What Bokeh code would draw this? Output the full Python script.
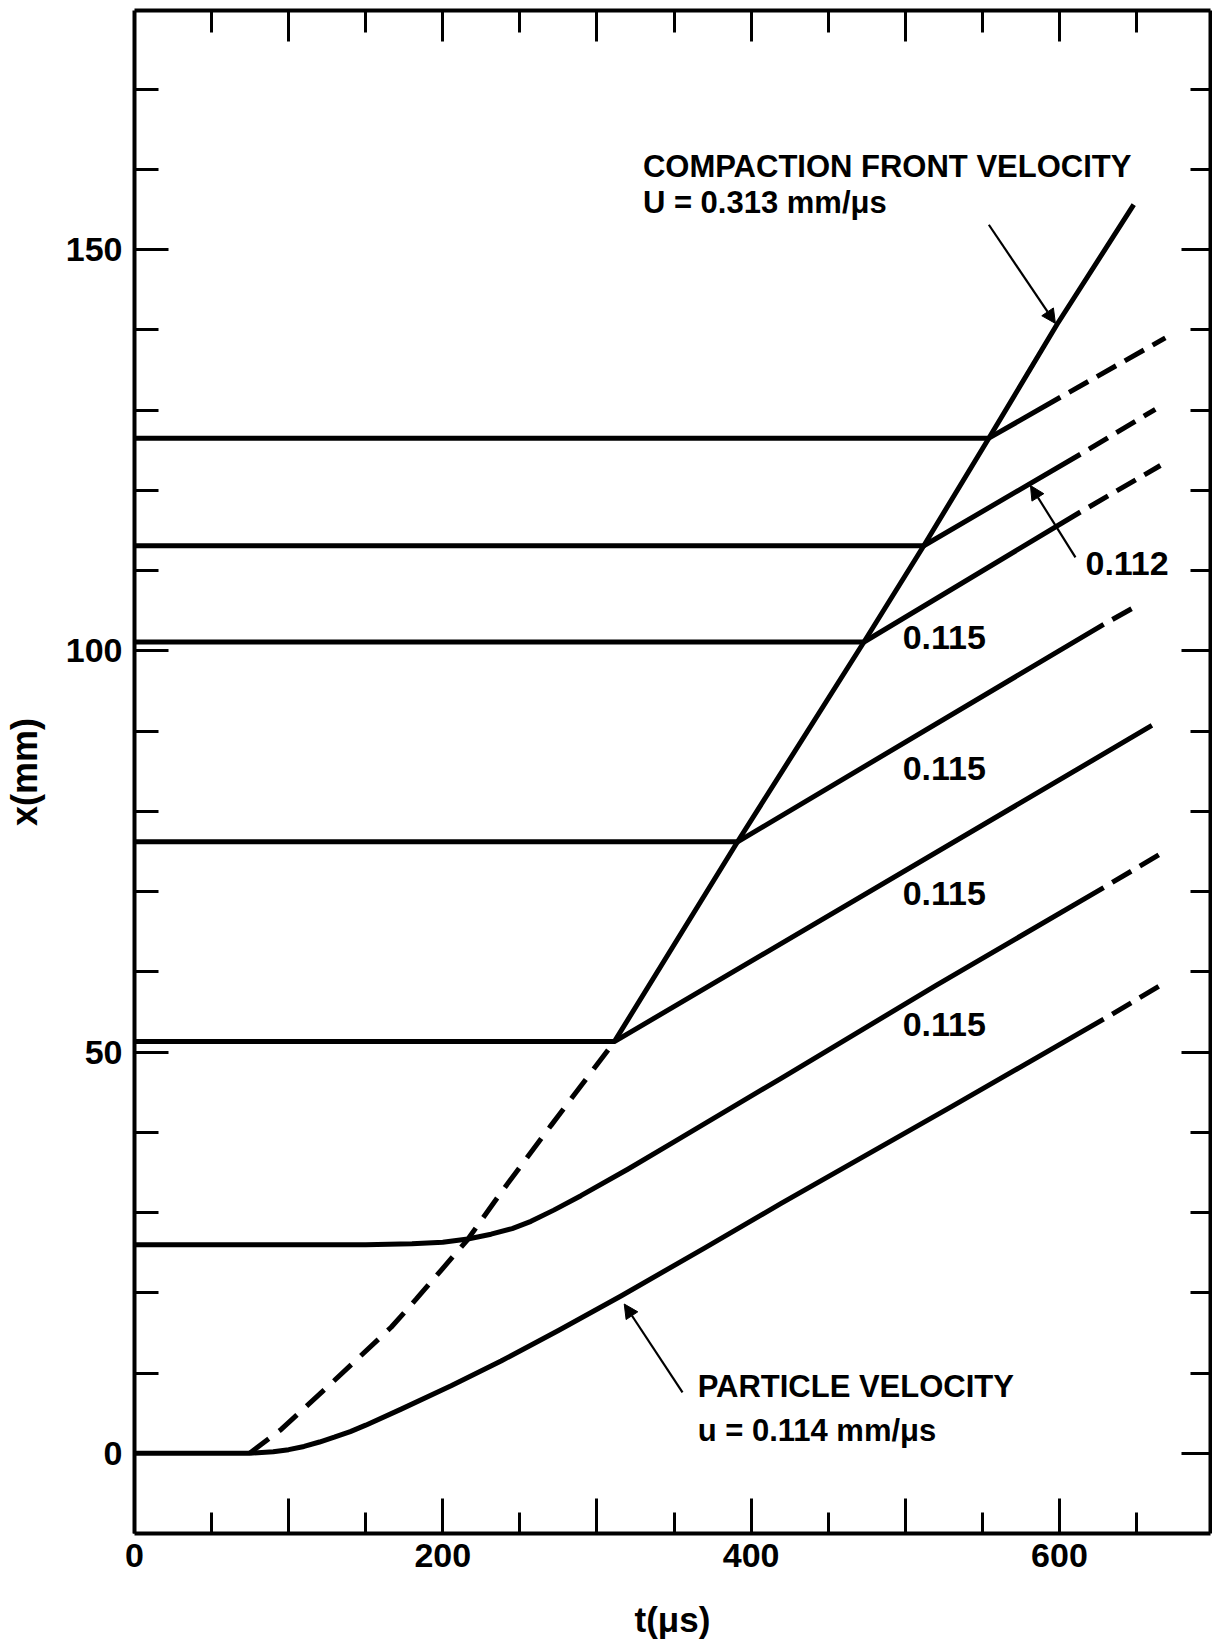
from bokeh.plotting import figure
from bokeh.models import Range1d, LinearAxis, FixedTicker, Label, Arrow, NormalHead
from bokeh.embed import file_html
from bokeh.resources import INLINE

# ---------------- data (t in microseconds, x in mm) ----------------
# compaction front: dashed (accelerating) part, then solid straight part
FRONT_DASH_T = [74.7, 95.3, 129.8, 166.5, 182.7, 198.9, 216.0, 237.8, 270.0, 311.3]
FRONT_DASH_X = [0.0, 3.0, 9.1, 15.7, 19.2, 22.8, 26.6, 32.5, 40.8, 51.3]
FRONT_T = [311.3, 391.2, 473.2, 512.0, 554.2, 598.5, 648.2]
FRONT_X = [51.3, 76.2, 101.1, 113.1, 126.5, 140.7, 155.6]

# particle (gauge) paths: solid part
PATH0_T = [0, 74.7, 90, 100, 110, 120, 129.6, 140, 150, 173, 205.4, 237.8, 275, 315.6,
           370, 419.2, 530, 628.7]
PATH0_X = [0, 0, 0.2, 0.45, 0.85, 1.4, 2.0, 2.7, 3.5, 5.5, 8.4, 11.5, 15.3, 19.6,
           25.6, 31.1, 43.2, 54.1]
PATH1_T = [0, 150, 180, 200, 216.2, 231.3, 245, 257.2, 272, 289.6, 320, 350, 419.2, 520, 628.7]
PATH1_X = [26.0, 26.0, 26.1, 26.3, 26.7, 27.3, 28.0, 28.9, 30.3, 32.1, 35.4, 38.8, 46.7, 58.3, 70.5]
PATH2_T = [0, 311.3, 660.0]
PATH2_X = [51.3, 51.3, 90.7]
PATH3_T = [0, 391.2, 628.7]
PATH3_X = [76.2, 76.2, 103.3]
PATH4_T = [0, 473.2, 613.6]
PATH4_X = [101.1, 101.1, 117.3]
PATH5_T = [0, 512.0, 613.6]
PATH5_X = [113.1, 113.1, 124.5]
PATH6_T = [0, 554.2, 600.6]
PATH6_X = [126.5, 126.5, 131.6]

# dashed extrapolated tails
TAIL0_T = [628.7, 665.5]
TAIL0_X = [54.1, 58.3]
TAIL1_T = [628.7, 666.5]
TAIL1_X = [70.5, 74.8]
TAIL3_T = [628.7, 648.2]
TAIL3_X = [103.3, 105.4]
TAIL4_T = [613.6, 665.5]
TAIL4_X = [117.3, 123.1]
TAIL5_T = [613.6, 662.2]
TAIL5_X = [124.5, 130.1]
TAIL6_T = [600.6, 668.7]
TAIL6_X = [131.6, 139.0]

# velocity annotations
VEL_TEXT = ["0.115", "0.115", "0.115", "0.115", "0.112"]
VEL_T = [498.3, 498.3, 498.3, 498.3, 616.9]
VEL_X = [101.7, 85.3, 69.7, 53.4, 110.9]

FRONT_TEXT = ["COMPACTION FRONT VELOCITY", "U = 0.313 mm/\u03bcs"]
FRONT_TEXT_T = [329.8, 329.8]
FRONT_TEXT_X = [160.4, 155.9]

PART_TEXT = ["PARTICLE VELOCITY", "u = 0.114 mm/\u03bcs"]
PART_TEXT_T = [365.3, 365.3]
PART_TEXT_X = [8.3, 2.85]

# arrows: (tail t, tail x, head t, head x)
ARROW_FRONT = (554.2, 153.1, 597.4, 140.8)
ARROW_112 = (610.4, 111.65, 581.2, 120.6)
ARROW_PART = (355.5, 7.6, 317.7, 18.6)

# axes
X_MAJOR = [0, 100, 200, 300, 400, 500, 600]
X_MINOR = [50, 100, 150, 200, 250, 300, 350, 400, 450, 500, 550, 600, 650]
X_LABELS = {0: "0", 100: "", 200: "200", 300: "", 400: "400", 500: "", 600: "600"}
Y_MAJOR = [0, 50, 100, 150]
Y_MINOR = [0, 10, 20, 30, 40, 50, 60, 70, 80, 90, 100, 110, 120, 130, 140, 150, 160, 170]
Y_LABELS = {0: "0", 50: "50", 100: "100", 150: "150"}

FONT = "Liberation Sans"

p = figure(width=1212, height=1641, output_backend="svg", toolbar_location=None,
           x_range=Range1d(0, 698), y_range=Range1d(-10, 179.8),
           x_axis_location=None, y_axis_location=None,
           min_border_left=133, min_border_right=2, min_border_top=10,
           min_border_bottom=108)
p.grid.visible = False
p.outline_line_color = None
p.background_fill_color = "white"
p.border_fill_color = "white"


def style_axis(ax, major_in, minor_in, labels, standoff, size):
    ax.axis_line_width = 4
    ax.axis_line_color = "black"
    ax.major_tick_line_width = 3
    ax.minor_tick_line_width = 3
    ax.major_tick_in = major_in
    ax.major_tick_out = 0
    ax.minor_tick_in = minor_in
    ax.minor_tick_out = 0
    ax.major_label_overrides = labels
    ax.major_label_standoff = standoff
    ax.major_label_text_font = FONT
    ax.major_label_text_font_style = "bold"
    ax.major_label_text_font_size = size
    ax.major_label_text_color = "black"


bottom = LinearAxis(ticker=FixedTicker(ticks=X_MAJOR, minor_ticks=X_MINOR))
style_axis(bottom, 35, 21, X_LABELS, 10, "34px")
bottom.axis_label = "t(\u03bcs)"
bottom.axis_label_text_font = FONT
bottom.axis_label_text_font_style = "bold"
bottom.axis_label_text_font_size = "35px"
bottom.axis_label_text_color = "black"
bottom.axis_label_standoff = 30
p.add_layout(bottom, "below")

left = LinearAxis(ticker=FixedTicker(ticks=Y_MAJOR, minor_ticks=Y_MINOR))
style_axis(left, 34, 24, Y_LABELS, 12, "34px")
left.axis_label = "x(mm)"
left.axis_label_text_font = FONT
left.axis_label_text_font_style = "bold"
left.axis_label_text_font_size = "36px"
left.axis_label_text_color = "black"
left.axis_label_standoff = 18
p.add_layout(left, "left")

top = LinearAxis(ticker=FixedTicker(ticks=X_MAJOR[1:], minor_ticks=X_MINOR))
style_axis(top, 31, 22, {t: "" for t in X_MAJOR}, 0, "0px")
p.add_layout(top, "above")

right = LinearAxis(ticker=FixedTicker(ticks=Y_MAJOR, minor_ticks=Y_MINOR))
style_axis(right, 29, 20, {y: "" for y in Y_MAJOR}, 0, "0px")
p.add_layout(right, "right")

LW = 5
# compaction front
p.line(FRONT_DASH_T, FRONT_DASH_X, line_width=LW, color="black", line_dash="24 13")
p.line(FRONT_T, FRONT_X, line_width=LW, color="black", line_join="round")

# particle paths
for ts, xs in [(PATH0_T, PATH0_X), (PATH1_T, PATH1_X), (PATH2_T, PATH2_X),
               (PATH3_T, PATH3_X), (PATH4_T, PATH4_X), (PATH5_T, PATH5_X),
               (PATH6_T, PATH6_X)]:
    p.line(ts, xs, line_width=LW, color="black", line_join="round")

for ts, xs in [(TAIL0_T, TAIL0_X), (TAIL1_T, TAIL1_X), (TAIL3_T, TAIL3_X),
               (TAIL4_T, TAIL4_X), (TAIL5_T, TAIL5_X), (TAIL6_T, TAIL6_X)]:
    p.line(ts, xs, line_width=LW, color="black", line_dash="22 10",
           line_dash_offset=22)


# text annotations
def add_label(t, x, text, size):
    p.add_layout(Label(x=t, y=x, text=text, text_font=FONT, text_font_style="bold",
                       text_font_size=size, text_baseline="middle", text_align="left",
                       text_color="black"))


for t, x, s in zip(VEL_T, VEL_X, VEL_TEXT):
    add_label(t, x, s, "34px")
for t, x, s in zip(FRONT_TEXT_T, FRONT_TEXT_X, FRONT_TEXT):
    add_label(t, x, s, "31px")
for t, x, s in zip(PART_TEXT_T, PART_TEXT_X, PART_TEXT):
    add_label(t, x, s, "31px")

for (t0, x0, t1, x1) in [ARROW_FRONT, ARROW_112, ARROW_PART]:
    p.add_layout(Arrow(x_start=t0, y_start=x0, x_end=t1, y_end=x1,
                       line_width=2.2, line_color="black",
                       end=NormalHead(size=14, fill_color="black", line_color="black",
                                      line_width=1)))

open("out.html", "w").write(file_html(p, INLINE))
